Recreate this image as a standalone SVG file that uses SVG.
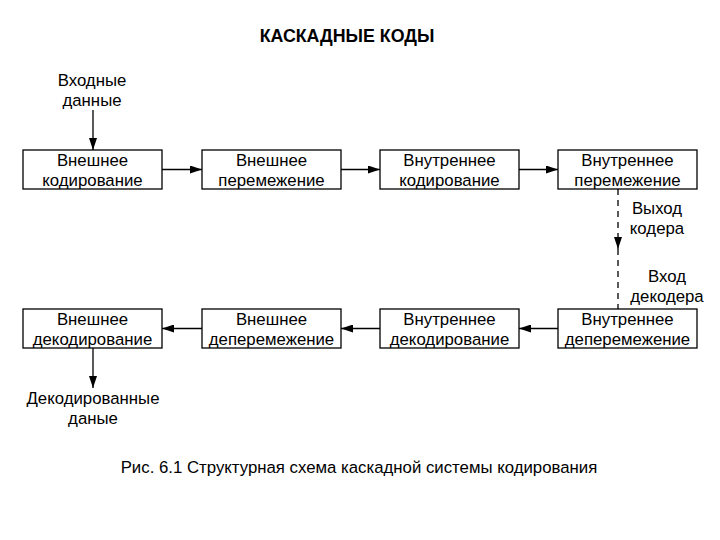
<svg xmlns="http://www.w3.org/2000/svg" width="720" height="540" viewBox="0 0 720 540">
<style>
text{font-family:"Liberation Sans",Arial,sans-serif;font-size:16.8px;fill:#000;text-anchor:middle}
.box rect{fill:#fff;stroke:#000;stroke-width:1.3}
.c line{stroke:#000;stroke-width:1.3}
.dash{stroke-dasharray:6,5}
.title{font-weight:bold;font-size:17.8px}
</style>
<defs>
<marker id="ah" markerWidth="12" markerHeight="8" refX="12" refY="4" orient="auto" markerUnits="userSpaceOnUse">
<path d="M0,0 L12,4 L0,8 Z" fill="#000"/>
</marker>
</defs>
<rect width="720" height="540" fill="#fff"/>
<text class="title" x="347" y="42">КАСКАДНЫЕ КОДЫ</text>

<g id="in-label"><text x="92" y="86">Входные</text><text x="92" y="106">данные</text></g>

<g id="n1" class="box"><rect x="23" y="150" width="139" height="39"/><text x="92.5" y="166">Внешнее</text><text x="92.5" y="186">кодирование</text></g>
<g id="n2" class="box"><rect x="202" y="150" width="139" height="39"/><text x="271.5" y="166">Внешнее</text><text x="271.5" y="186">перемежение</text></g>
<g id="n3" class="box"><rect x="380" y="150" width="139" height="39"/><text x="449.5" y="166">Внутреннее</text><text x="449.5" y="186">кодирование</text></g>
<g id="n4" class="box"><rect x="558" y="150" width="139" height="39"/><text x="627.5" y="166">Внутреннее</text><text x="627.5" y="186">перемежение</text></g>

<g id="n5" class="box"><rect x="23" y="309" width="139" height="39"/><text x="92.5" y="325">Внешнее</text><text x="92.5" y="345">декодирование</text></g>
<g id="n6" class="box"><rect x="202" y="309" width="139" height="39"/><text x="271.5" y="325">Внешнее</text><text x="271.5" y="345">деперемежение</text></g>
<g id="n7" class="box"><rect x="380" y="309" width="139" height="39"/><text x="449.5" y="325">Внутреннее</text><text x="449.5" y="345">декодирование</text></g>
<g id="n8" class="box"><rect x="558" y="309" width="139" height="39"/><text x="627.5" y="325">Внутреннее</text><text x="627.5" y="345">деперемежение</text></g>

<g id="lbl-coder"><text x="657" y="214">Выход</text><text x="657" y="234">кодера</text></g>
<g id="lbl-decoder"><text x="667" y="282">Вход</text><text x="667" y="302">декодера</text></g>

<g id="out-label"><text x="93" y="404">Декодированные</text><text x="93" y="424">даные</text></g>

<g id="connectors" class="c">
<line x1="93" y1="110" x2="93" y2="150" marker-end="url(#ah)"/>
<line x1="162" y1="169.5" x2="202" y2="169.5" marker-end="url(#ah)"/>
<line x1="341" y1="169.5" x2="380" y2="169.5" marker-end="url(#ah)"/>
<line x1="519" y1="169.5" x2="558" y2="169.5" marker-end="url(#ah)"/>
<line class="dash" x1="618" y1="189" x2="618" y2="249" marker-end="url(#ah)"/>
<line class="dash" x1="618" y1="249" x2="618" y2="309"/>
<line x1="558" y1="328.5" x2="519" y2="328.5" marker-end="url(#ah)"/>
<line x1="380" y1="328.5" x2="341" y2="328.5" marker-end="url(#ah)"/>
<line x1="202" y1="328.5" x2="162" y2="328.5" marker-end="url(#ah)"/>
<line x1="93" y1="348" x2="93" y2="388" marker-end="url(#ah)"/>
</g>

<text x="359" y="473">Рис. 6.1 Структурная схема каскадной системы кодирования</text>
</svg>
